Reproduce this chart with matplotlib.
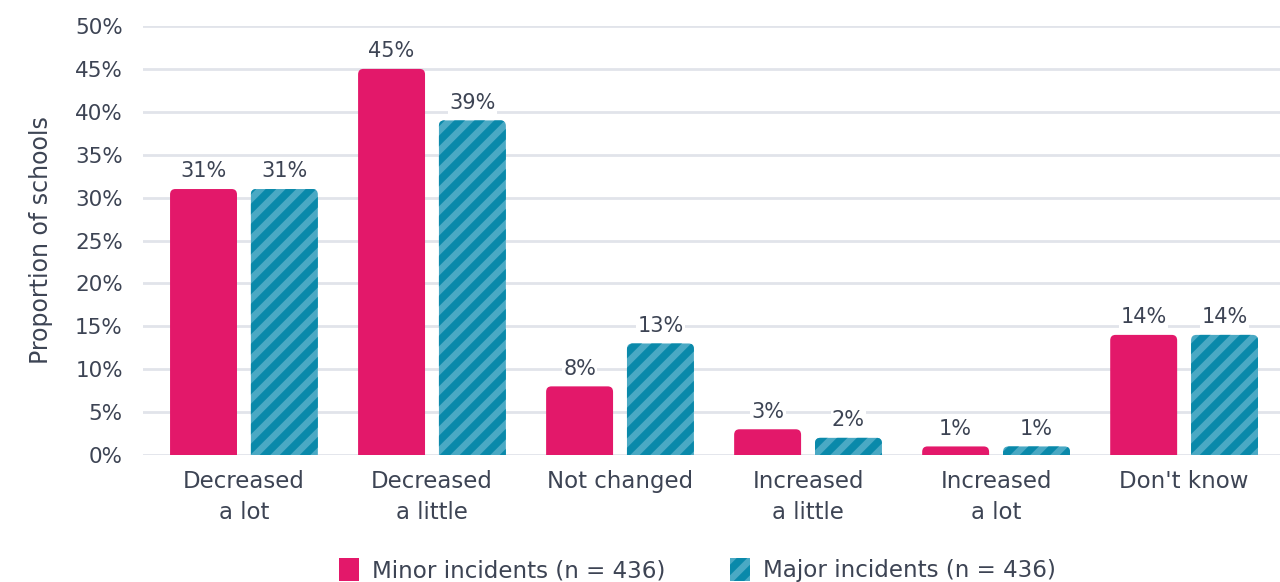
import matplotlib.pyplot as plt
from matplotlib.patches import FancyBboxPatch, Patch
import numpy as np

categories = ['Decreased\na lot', 'Decreased\na little', 'Not changed',
              'Increased\na little', 'Increased\na lot', "Don't know"]
minor = [31, 45, 8, 3, 1, 14]
major = [31, 39, 13, 2, 1, 14]
series_labels = ['Minor incidents (n = 436)', 'Major incidents (n = 436)']
yticks = [0, 5, 10, 15, 20, 25, 30, 35, 40, 45, 50]

PINK = '#E3186A'
TEAL_LIGHT = '#4AA9C4'
TEAL_DARK = '#0A89AA'
TXT = '#3D4454'
GRID = '#E1E4EA'

# render at 120 dpi so the hatch stripes get wider; sizes below are in points
DPI = 120
k = 100 / DPI

plt.rcParams['font.family'] = ['DejaVu Sans']
plt.rcParams['hatch.linewidth'] = 4.5
plt.rcParams['hatch.color'] = TEAL_DARK

fig = plt.figure(figsize=(1280 / DPI, 582 / DPI), dpi=DPI)
ax = fig.add_axes([0.1117, 0.2182, 0.8883, 0.7371])

x = np.arange(len(categories))
w = 0.356
off = 0.215

b1 = ax.bar(x - off, minor, w, color=PINK, zorder=3)
b2 = ax.bar(x + off, major, w, color=TEAL_LIGHT, hatch='//', edgecolor=TEAL_DARK,
            linewidth=0, zorder=3)

ax.set_xlim(-0.537, 5.51)
ax.set_ylim(0, 50)

# swap the plain rectangles for ones with rounded top corners
r = 0.028
aspect = (5.5 / 8.58) / r
for bars in (b1, b2):
    for rect in bars:
        bx, bw, bh = rect.get_x(), rect.get_width(), rect.get_height()
        p = FancyBboxPatch((bx + r, -2), bw - 2 * r, bh + 2 - r * aspect,
                           boxstyle=f'round,pad={r},rounding_size={r}',
                           mutation_aspect=aspect,
                           facecolor=rect.get_facecolor(), hatch=rect.get_hatch(),
                           edgecolor=TEAL_DARK if rect.get_hatch() else 'none',
                           linewidth=0, zorder=3)
        ax.add_patch(p)
        rect.set_visible(False)

for bars, vals in ((b1, minor), (b2, major)):
    for rect, v in zip(bars, vals):
        ax.text(rect.get_x() + rect.get_width() / 2, v + 0.9, f'{v}%', ha='center',
                va='bottom', fontsize=15 * k, color=TXT, zorder=4,
                bbox=dict(facecolor='white', edgecolor='none', pad=1 * k))

ax.set_yticks(yticks)
ax.set_yticklabels([f'{t}%' for t in yticks])
ax.set_xticks(x)
ax.set_xticklabels(categories, linespacing=1.45, fontsize=16.5 * k)
ax.tick_params(axis='both', length=0, colors=TXT)
ax.tick_params(axis='y', pad=14.5 * k, labelsize=15.5 * k)
ax.tick_params(axis='x', pad=11 * k)
ax.grid(axis='y', color=GRID, linewidth=2 * k, zorder=0)
ax.set_axisbelow(True)
for s in ax.spines.values():
    s.set_visible(False)
ax.set_ylabel('Proportion of schools', fontsize=17 * k, color=TXT, labelpad=16 * k)

handles = [Patch(facecolor=PINK, linewidth=0),
           Patch(facecolor=TEAL_LIGHT, hatch='//', edgecolor=TEAL_DARK, linewidth=0)]
fig.legend(handles, series_labels, loc='center', bbox_to_anchor=(0.545, 0.02), ncol=2,
           frameon=False, fontsize=16.6 * k, labelcolor=TXT, handlelength=0.87,
           handleheight=1.1, columnspacing=2.78, handletextpad=0.57)

fig.savefig('out.png', dpi=DPI)
